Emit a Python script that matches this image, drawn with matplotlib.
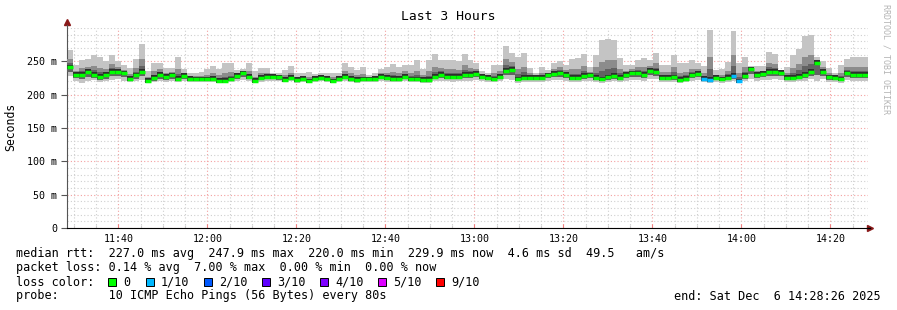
import matplotlib
matplotlib.use("Agg")
import matplotlib.pyplot as plt
from matplotlib.patches import Rectangle
from matplotlib.ticker import FixedLocator, MultipleLocator
import numpy as np

# window: 11:28:26 .. 14:28:26, x in minutes after midnight
t_start = 11 * 60 + 28 + 26 / 60
t_end = 14 * 60 + 28 + 26 / 60

# median rtt per step (ms)
med = [241, 230, 230, 234, 230, 227, 230, 234, 234, 232,
       224, 229, 234, 221, 225, 230, 227, 229, 224, 228,
       224, 223, 223, 223, 224, 221, 221, 223, 228, 232,
       227, 221, 225, 227, 227, 226, 222, 225, 222, 224,
       220, 224, 225, 224, 220, 224, 227, 224, 222, 223,
       223, 224, 227, 225, 224, 224, 227, 223, 223, 222,
       222, 227, 230, 227, 227, 227, 230, 230, 231, 227,
       225, 223, 227, 236, 237, 223, 225, 225, 225, 225,
       229, 231, 232, 230, 225, 225, 228, 229, 225, 223,
       226, 228, 225, 230, 232, 232, 230, 236, 234, 225,
       225, 226, 222, 224, 229, 231, 224, 222, 225, 223,
       225, 228, 220, 228, 238, 230, 231, 234, 234, 233,
       225, 225, 227, 230, 234, 248, 234, 226, 225, 223,
       232, 230, 230, 230]

# slowest ping per step
hi = [267, 244, 252, 254, 260, 257, 251, 260, 251, 244,
      240, 253, 276, 235, 248, 248, 240, 240, 256, 239,
      233, 233, 234, 239, 243, 239, 248, 248, 237, 238,
      247, 235, 240, 240, 233, 233, 237, 243, 232, 233,
      234, 231, 233, 233, 233, 233, 248, 241, 237, 241,
      230, 232, 239, 241, 246, 241, 244, 244, 252, 238,
      252, 261, 252, 252, 252, 250, 261, 252, 247, 235,
      233, 245, 245, 273, 263, 257, 262, 240, 232, 241,
      237, 248, 251, 245, 253, 255, 261, 241, 260, 282,
      284, 282, 255, 244, 245, 252, 255, 252, 263, 244,
      245, 260, 247, 247, 252, 248, 243, 297, 237, 238,
      249, 296, 248, 257, 243, 243, 243, 264, 261, 237,
      242, 259, 269, 288, 290, 256, 251, 240, 233, 245,
      254, 256, 256, 256]

# upper inner ping per step
up = [253, 236, 240, 242, 243, 240, 239, 246, 242, 237,
      231, 240, 253, 227, 235, 238, 233, 234, 238, 233,
      228, 228, 228, 230, 233, 229, 233, 234, 232, 235,
      236, 227, 232, 233, 230, 229, 229, 233, 227, 228,
      226, 227, 229, 228, 226, 228, 236, 232, 229, 231,
      226, 228, 232, 232, 234, 232, 235, 232, 236, 229,
      235, 242, 240, 238, 238, 237, 244, 240, 238, 231,
      229, 233, 235, 253, 249, 238, 242, 232, 228, 232,
      233, 239, 241, 237, 238, 238, 243, 234, 241, 249,
      252, 252, 239, 236, 238, 241, 241, 243, 247, 234,
      234, 241, 233, 234, 239, 239, 233, 256, 230, 230,
      236, 259, 233, 241, 240, 236, 236, 248, 246, 235,
      233, 240, 246, 256, 259, 252, 242, 232, 229, 233,
      242, 242, 242, 242]

# lower inner ping per step
dn = [234, 225, 224, 227, 225, 222, 224, 228, 228, 226,
      221, 224, 228, 219, 221, 224, 222, 224, 221, 223,
      221, 221, 221, 221, 221, 219, 219, 221, 224, 227,
      223, 219, 222, 223, 223, 222, 220, 222, 220, 221,
      218, 221, 222, 221, 218, 221, 223, 221, 220, 221,
      221, 221, 223, 222, 221, 221, 223, 221, 221, 220,
      220, 223, 225, 223, 223, 223, 225, 225, 226, 223,
      222, 221, 223, 229, 230, 220, 222, 222, 222, 222,
      225, 226, 227, 225, 222, 222, 224, 225, 222, 221,
      222, 224, 222, 225, 227, 227, 225, 230, 228, 222,
      222, 222, 220, 221, 225, 226, 221, 219, 222, 220,
      222, 224, 218, 224, 231, 225, 226, 228, 228, 228,
      222, 222, 223, 225, 228, 230, 228, 222, 222, 220,
      226, 225, 225, 225]

# fastest ping per step
lo = [228, 221, 218, 221, 222, 219, 220, 222, 223, 221,
      219, 220, 222, 217, 219, 220, 219, 221, 219, 220,
      219, 219, 219, 219, 219, 218, 218, 219, 221, 222,
      220, 218, 219, 220, 220, 220, 219, 220, 218, 219,
      217, 219, 220, 219, 217, 219, 221, 219, 218, 219,
      219, 219, 220, 219, 219, 219, 220, 219, 219, 218,
      218, 220, 221, 220, 219, 220, 221, 221, 222, 220,
      219, 219, 220, 223, 222, 218, 219, 219, 219, 219,
      221, 222, 222, 221, 219, 219, 220, 221, 219, 218,
      219, 220, 219, 221, 222, 222, 221, 224, 223, 219,
      219, 219, 218, 219, 221, 222, 219, 217, 219, 218,
      219, 220, 217, 220, 224, 221, 222, 222, 223, 222,
      219, 219, 220, 221, 223, 221, 223, 219, 219, 218,
      222, 221, 221, 221]

# lost pings (out of 10) per step
loss = [0] * 134
for i in (106, 107, 111, 112):
    loss[i] = 1

loss_labels = ["0", "1/10", "2/10", "3/10", "4/10", "5/10", "9/10"]
loss_colors = ["#00ff00", "#00b8ff", "#0059ff", "#5e00ff", "#7e00ff", "#dd00ff", "#ff0000"]

y_ticks = [0, 50, 100, 150, 200, 250]
x_ticks = ["11:40", "12:00", "12:20", "12:40", "13:00", "13:20", "13:40", "14:00", "14:20"]

mono = "DejaVu Sans Mono"
W, H = 897, 310

fig = plt.figure(figsize=(W / 100, H / 100), dpi=100)
ax = fig.add_axes([67 / W, (H - 228) / H, 801 / W, 200 / H])

n = len(med)
edges = np.linspace(t_start, t_end, n + 1)
med = np.array(med)
up = np.array(up)
dn = np.array(dn)

# smoke, lighter to darker towards the median
ax.stairs(hi, edges, baseline=lo, fill=True, color="#c4c4c4", lw=0, zorder=2)
ax.stairs(up, edges, baseline=dn, fill=True, color="#8c8c8c", lw=0, zorder=3)
ax.stairs((up + med) / 2, edges, baseline=dn, fill=True, color="#626262", lw=0, zorder=4)
ax.stairs(med + 4, edges, baseline=med - 3, fill=True, color="#2e2e2e", lw=0, zorder=5)

# median line coloured by loss
ax.hlines(med, edges[:-1], edges[1:], colors=[loss_colors[l] for l in loss],
          lw=2.5, zorder=6)

ax.set_xlim(t_start, t_end)
ax.set_ylim(0, 300)

# grid
ax.yaxis.set_minor_locator(MultipleLocator(10))
ax.xaxis.set_minor_locator(MultipleLocator(5))
major_x = [11 * 60 + 40 + 20 * i for i in range(len(x_ticks))]
ax.xaxis.set_major_locator(FixedLocator(major_x))
ax.set_xticklabels(x_ticks)
ax.yaxis.set_major_locator(FixedLocator(y_ticks))
ax.set_yticklabels(["0" if v == 0 else f"{v} m" for v in y_ticks])

ax.grid(which="minor", color="#cfcfcf", ls=(0, (1, 2)), lw=0.8, zorder=1)
ax.grid(which="major", color="#f4a0a0", ls=(0, (1, 2)), lw=0.8, zorder=1)
ax.set_axisbelow(True)

for s in ("top", "right"):
    ax.spines[s].set_visible(False)
ax.spines["left"].set_color("#555555")
ax.spines["bottom"].set_color("#000000")
ax.spines["left"].set_bounds(0, 305)
ax.tick_params(axis="y", which="major", length=4, width=0.8, color="#555555",
               labelsize=7.2, pad=3)
ax.tick_params(axis="y", which="minor", length=0)
ax.tick_params(axis="x", which="major", length=3, width=0.8, color="#f08080",
               direction="in", labelsize=7.2, pad=4)
ax.tick_params(axis="x", which="minor", length=2, width=0.8, color="#cccccc",
               direction="in")
for lab in ax.get_xticklabels() + ax.get_yticklabels():
    lab.set_family(mono)

# axis arrows
ax.plot([0], [1.03], marker="^", color="#8b1a1a", ms=4, transform=ax.transAxes, clip_on=False)
ax.plot([1.003], [0], marker=">", color="#8b1a1a", ms=4, transform=ax.transAxes, clip_on=False)
ax.plot([1.0, 1.003], [0, 0], color="#000000", lw=1, transform=ax.transAxes, clip_on=False)

# texts
def px(x, y):
    return x / W, 1 - y / H

fig.text(*px(448, 20), "Last 3 Hours", family=mono, fontsize=9.4, ha="center", va="baseline")
fig.text(*px(11, 127), "Seconds", family=mono, fontsize=8.3, rotation=90, ha="center", va="center")
fig.text(*px(886, 4), "RRDTOOL / TOBI OETIKER", family=mono, fontsize=6.0, rotation=270,
         ha="center", va="top", color="#b4b4b4")

rows = [254, 268, 282, 296]
fs = 8.5
fig.text(*px(16, rows[0]), "median rtt:  227.0 ms avg  247.9 ms max  220.0 ms min  229.9 ms now  4.6 ms sd  49.5   am/s",
         family=mono, fontsize=fs, va="center")
fig.text(*px(16, rows[1]), "packet loss: 0.14 % avg  7.00 % max  0.00 % min  0.00 % now",
         family=mono, fontsize=fs, va="center")
fig.text(*px(16, rows[2]), "loss color:", family=mono, fontsize=fs, va="center")
sq_x = [108, 146, 204, 262, 320, 378, 436]
for x0, lab, col in zip(sq_x, loss_labels, loss_colors):
    fig.add_artist(Rectangle(px(x0, rows[2] + 4), 8 / W, 8 / H, transform=fig.transFigure,
                             facecolor=col, edgecolor="#000000", lw=0.7))
    fig.text(*px(x0 + 15, rows[2]), lab, family=mono, fontsize=fs, va="center")
fig.text(*px(16, rows[3]), "probe:       10 ICMP Echo Pings (56 Bytes) every 80s",
         family=mono, fontsize=fs, va="center")
fig.text(*px(881, rows[3]), "end: Sat Dec  6 14:28:26 2025", family=mono, fontsize=fs,
         va="center", ha="right")

fig.savefig("out.png", dpi=100, facecolor="white")
